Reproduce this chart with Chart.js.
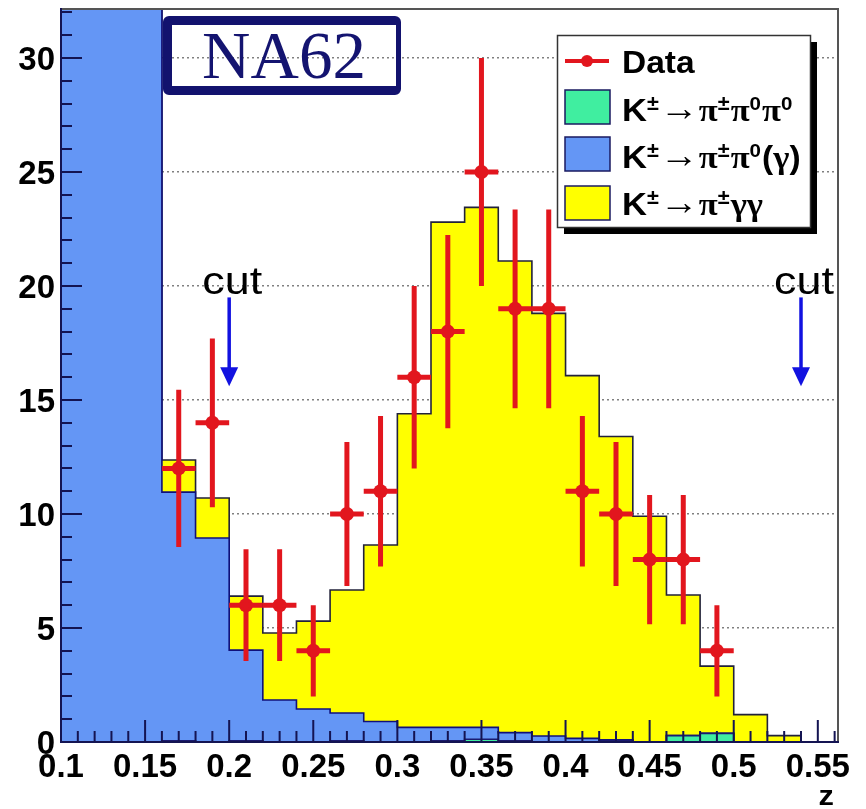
<!DOCTYPE html>
<html><head><meta charset="utf-8">
<script src="https://cdn.jsdelivr.net/npm/chart.js@4.4.0/dist/chart.umd.min.js"></script>
<style>html,body{margin:0;padding:0;background:#fff;}#wrap{width:866px;height:809px;}</style>
</head><body><div id="wrap"><canvas id="c" width="866" height="809"></canvas></div>
<script>
// ---- data ----
const binLowEdges = [0.10,0.12,0.14,0.16,0.18,0.20,0.22,0.24,0.26,0.28,0.30,0.32,0.34,0.36,0.38,0.40,0.42,0.44,0.46,0.48,0.50,0.52,0.54];
// K± -> π± π0 π0 (green)
const kPiPi0Pi0   = [0,0,0,0.05,0,0.05,0,0,0.05,0,0,0.05,0.12,0.05,0,0,0.08,0,0.28,0.38,0,0,0];
// K± -> π± π0 (γ) (blue) — first three bins are off scale
const kPiPi0Gamma = [60,50,40,10.91,8.95,3.98,1.84,1.45,1.22,0.9,0.64,0.59,0.52,0.36,0.26,0.16,0.02,0,0,0,0,0,0];
// K± -> π± γγ (yellow)
const kPiGammaGamma = [0,0,0,1.41,1.75,2.37,2.94,3.85,5.4,7.74,13.76,22.16,22.81,20.69,18.54,15.91,13.3,9.9,6.17,2.95,1.2,0.28,0];
// Data
const dataZ      = [0.17,0.19,0.21,0.23,0.25,0.27,0.29,0.31,0.33,0.35,0.37,0.39,0.41,0.43,0.45,0.47,0.49];
const dataCounts = [12,14,6,6,4,10,11,16,18,25,19,19,11,10,8,8,4];
const dataErrors = [3.45,3.7,2.45,2.45,2.0,3.16,3.3,4.0,4.24,5.0,4.36,4.36,3.3,3.16,2.83,2.83,2.0];
const dataHalfBin = 0.01;
const cutValues = [0.2, 0.54];
const labels = ['Data','K\u00B1\u2192\u03C0\u00B1\u03C0\u2070\u03C0\u2070','K\u00B1\u2192\u03C0\u00B1\u03C0\u2070(\u03B3)','K\u00B1\u2192\u03C0\u00B1\u03B3\u03B3'];

// ---- styles ----
const RED='rgb(226,22,30)', NAVY='#141452', BLUE='rgb(100,150,245)', GREEN='rgb(64,238,160)', YEL='#ffff00';
const SANS='"Liberation Sans", Arial, sans-serif', SERIF='"Liberation Serif", "Times New Roman", serif';

// stacked sums (ROOT THStack style)
const cumGreen = kPiPi0Pi0.slice();
const cumBlue = kPiPi0Pi0.map((v,i)=>v+kPiPi0Gamma[i]);
const cumTotal = cumBlue.map((v,i)=>v+kPiGammaGamma[i]);
const pts = arr => binLowEdges.map((e,i)=>({x:e,y:arr[i]}));

function histDs(label, arr, fillColor, lineColor){
  return {label, data: pts(arr), stepped:'before', fill:'origin', backgroundColor:fillColor,
    borderColor:lineColor, borderWidth:1.6, pointRadius:0, tension:0, clip:0};
}

function txt(ctx, s, x, y, font, align, sx, color){
  ctx.save(); ctx.font=font; ctx.textAlign=align; ctx.textBaseline='alphabetic';
  ctx.fillStyle=color||'#000'; ctx.translate(x,y); ctx.scale(sx,1); ctx.fillText(s,0,0); ctx.restore();
}
function rich(ctx, segs, x, y, sx){
  ctx.save(); ctx.translate(x,y); ctx.scale(sx,1);
  let cx=0;
  for(const s of segs){ ctx.font=s.f; ctx.fillStyle='#000'; ctx.textAlign='left'; ctx.fillText(s.t,cx,s.dy||0); cx+=ctx.measureText(s.t).width + (s.gap||0); }
  ctx.restore();
}

const deco = {
  id:'deco',
  afterDatasetsDraw(chart){
    const ctx=chart.ctx, xs=chart.scales.x, ys=chart.scales.y, a=chart.chartArea;
    // error bars
    ctx.save(); ctx.strokeStyle=RED; ctx.lineWidth=5; ctx.lineCap='butt';
    dataZ.forEach((z,i)=>{
      const px=xs.getPixelForValue(z), py=ys.getPixelForValue(dataCounts[i]);
      ctx.beginPath();
      ctx.moveTo(px, ys.getPixelForValue(dataCounts[i]+dataErrors[i]));
      ctx.lineTo(px, ys.getPixelForValue(dataCounts[i]-dataErrors[i]));
      ctx.moveTo(xs.getPixelForValue(z-dataHalfBin), py);
      ctx.lineTo(xs.getPixelForValue(z+dataHalfBin), py);
      ctx.stroke();
    });
    ctx.restore();
    // frame top/right
    ctx.save(); ctx.strokeStyle='#555'; ctx.lineWidth=2;
    ctx.beginPath(); ctx.moveTo(a.left,a.top); ctx.lineTo(a.right,a.top); ctx.lineTo(a.right,a.bottom); ctx.stroke();
    ctx.restore();
    // ticks (inside)
    ctx.save(); ctx.strokeStyle=NAVY; ctx.lineWidth=2;
    ctx.beginPath();
    for(let v=Math.ceil(ys.min); v<=ys.max; v++){
      const py=Math.round(ys.getPixelForValue(v)); const L=(v%5===0)?21:11;
      ctx.moveTo(a.left,py); ctx.lineTo(a.left+L,py);
    }
    for(let k=Math.round(xs.min*100); k<=Math.floor(xs.max*100+1e-6); k++){
      const px=xs.getPixelForValue(k/100); const L=(k%5===0)?22:11;
      ctx.moveTo(px,a.bottom); ctx.lineTo(px,a.bottom-L);
    }
    ctx.stroke(); ctx.restore();
    // tick labels
    ys.ticks.forEach(t=>{ txt(ctx, String(t.value), a.left-6, ys.getPixelForValue(t.value)+12, 'bold 33px '+SANS, 'right', 1.0); });
    xs.ticks.forEach(t=>{ txt(ctx, String(+t.value.toFixed(2)), xs.getPixelForValue(t.value), 777, 'bold 34px '+SANS, 'center', 0.97); });
    txt(ctx, 'z', a.right-4, 805, 'bold 28px '+SANS, 'right', 1.1);
    // cut arrows
    cutValues.forEach(c=>{
      const px=xs.getPixelForValue(c);
      const yTop=ys.getPixelForValue(19.5), yTip=ys.getPixelForValue(15.6);
      txt(ctx,'cut',px+3,294,'39px '+SANS,'center',1.15,'#000');
      ctx.save(); ctx.strokeStyle='#1212e0'; ctx.fillStyle='#1212e0'; ctx.lineWidth=3.5;
      ctx.beginPath(); ctx.moveTo(px,yTop); ctx.lineTo(px,yTip-12); ctx.stroke();
      ctx.beginPath(); ctx.moveTo(px-9,yTip-19); ctx.lineTo(px+9,yTip-19); ctx.lineTo(px,yTip); ctx.closePath(); ctx.fill();
      ctx.restore();
    });
    // NA62 box
    ctx.save();
    const bx=a.left+102, by=a.top+7, bw=238, bh=79;
    ctx.fillStyle='#12126e';
    ctx.beginPath();
    ctx.roundRect(bx,by,bw,bh,6);
    ctx.rect(bx+9,by+9,bw-14,bh-18);
    ctx.fill('evenodd');
    ctx.restore();
    txt(ctx,'NA62',bx+bw/2+2,by+62,'67px '+SERIF,'center',1.0,'#141470');
    // legend
    const lx=557, ly=35, lw=253, lh=192;
    ctx.save();
    ctx.fillStyle='#000'; ctx.fillRect(lx+7,ly+7,lw,lh);
    ctx.fillStyle='#fff'; ctx.fillRect(lx,ly,lw,lh);
    ctx.strokeStyle='#333'; ctx.lineWidth=1.5; ctx.strokeRect(lx+0.5,ly+0.5,lw,lh);
    // data entry
    ctx.strokeStyle=RED; ctx.lineWidth=4; ctx.beginPath(); ctx.moveTo(565,61); ctx.lineTo(609,61); ctx.stroke();
    ctx.fillStyle=RED; ctx.beginPath(); ctx.arc(587,61,6,0,Math.PI*2); ctx.fill();
    const boxes=[[GREEN,90],[BLUE,137],[YEL,186]];
    boxes.forEach(([c,y])=>{ ctx.fillStyle=c; ctx.fillRect(565,y,45,34); ctx.strokeStyle='#1a1a60'; ctx.lineWidth=1.5; ctx.strokeRect(565,y,45,34); });
    ctx.restore();
    txt(ctx,labels[0],622,73,'bold 31px '+SANS,'left',1.08);
    const K={t:'K',f:'bold 32px '+SANS}, PM={t:'\u00B1',f:'bold 20px '+SANS,dy:-11,gap:1}, AR={t:'\u2192',f:'36px '+SERIF,dy:-1},
          PI={t:'\u03C0',f:'bold 32px '+SERIF}, Z={t:'0',f:'bold 19px '+SANS,dy:-11,gap:1}, GA={t:'\u03B3',f:'bold 32px '+SERIF},
          LP={t:'(',f:'bold 31px '+SANS}, RP={t:')',f:'bold 31px '+SANS};
    rich(ctx,[K,PM,AR,PI,PM,PI,Z,PI,Z],622,121,1.08);
    rich(ctx,[K,PM,AR,PI,PM,PI,Z,LP,GA,RP],622,168,1.08);
    rich(ctx,[K,PM,AR,PI,PM,GA,GA],622,215,1.08);
  }
};

new Chart(document.getElementById('c'), {
  type:'line',
  data:{datasets:[
    {label:labels[0], type:'scatter', data:dataZ.map((z,i)=>({x:z,y:dataCounts[i]})), pointRadius:7,
      pointBackgroundColor:RED, pointBorderWidth:0, showLine:false, clip:0},
    histDs(labels[1], cumGreen, GREEN, '#1a1a70'),
    histDs(labels[2], cumBlue, BLUE, '#10107a'),
    histDs(labels[3], cumTotal, YEL, '#22223a')
  ]},
  options:{
    responsive:false, animation:false, devicePixelRatio:1,
    layout:{padding:{top:9,right:28,left:0,bottom:0}},
    plugins:{legend:{display:false}, tooltip:{enabled:false}},
    scales:{
      x:{type:'linear', min:0.1, max:0.562, ticks:{display:false, stepSize:0.05, includeBounds:false},
         grid:{display:false, drawTicks:false}, border:{display:true, color:NAVY, width:2, z:1},
         afterFit(s){ s.height=67; }},
      y:{type:'linear', min:0, max:32.15, ticks:{display:false, stepSize:5, includeBounds:false},
         grid:{drawTicks:false, color:c=> (c.tick && c.tick.value===0)?'rgba(0,0,0,0)':'#808080', lineWidth:1.4},
         border:{display:true, color:NAVY, width:2, z:1, dash:[2,3]},
         afterFit(s){ s.width=61; }}
    }
  },
  plugins:[deco]
});
</script></body></html>
